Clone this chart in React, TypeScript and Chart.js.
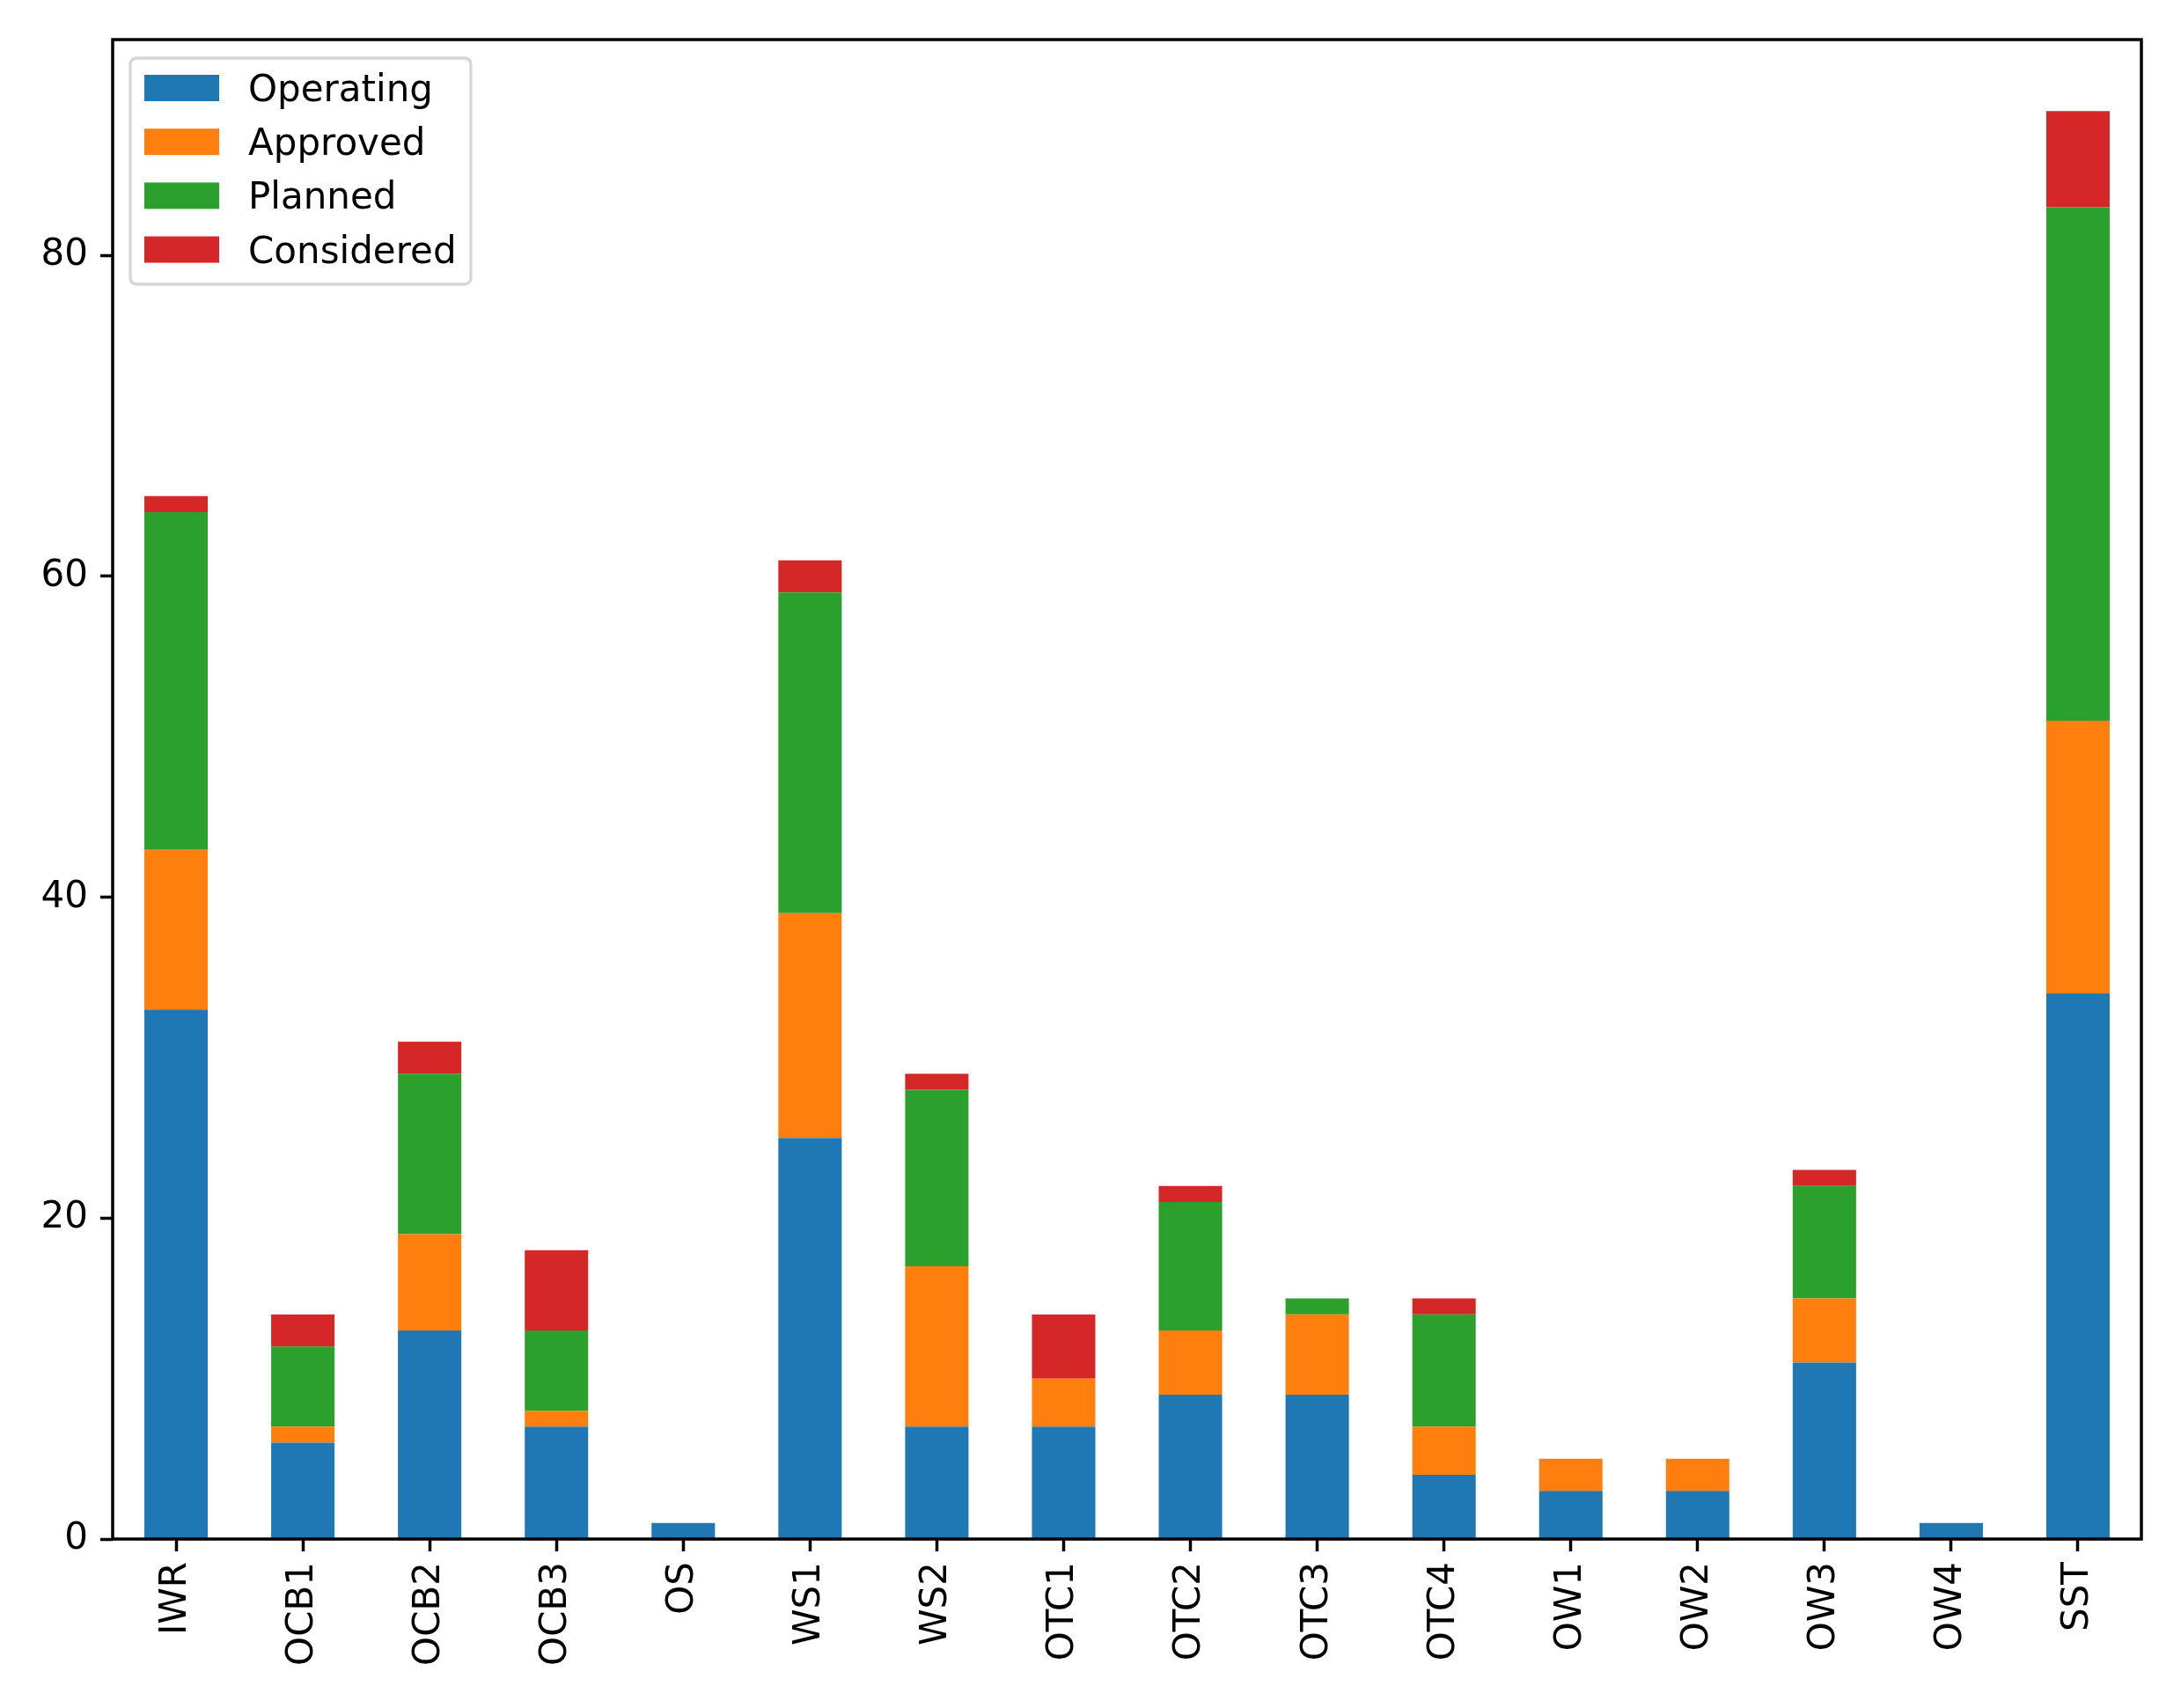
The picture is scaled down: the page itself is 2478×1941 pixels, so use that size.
import React, { useEffect, useRef } from 'react';
import { Chart, registerables } from 'chart.js';

Chart.register(...registerables);

const categories = ['IWR', 'OCB1', 'OCB2', 'OCB3', 'OS', 'WS1', 'WS2', 'OTC1', 'OTC2', 'OTC3', 'OTC4', 'OW1', 'OW2', 'OW3', 'OW4', 'SST'];
const operating = [33, 6, 13, 7, 1, 25, 7, 7, 9, 9, 4, 3, 3, 11, 1, 34];
const approved = [10, 1, 6, 1, 0, 14, 10, 3, 4, 5, 3, 2, 2, 4, 0, 17];
const planned = [21, 5, 10, 5, 0, 20, 11, 0, 8, 1, 7, 0, 0, 7, 0, 32];
const considered = [1, 2, 2, 5, 0, 2, 1, 4, 1, 0, 1, 0, 0, 1, 0, 6];
const seriesNames = ['Operating', 'Approved', 'Planned', 'Considered'];
const seriesColors = ['#1f77b4', '#ff7f0e', '#2ca02c', '#d62728'];
const yTicks = [0, 20, 40, 60, 80];
const yMax = 93.45;

const FONT = "'DejaVu Sans', sans-serif";
const FS = 42;

export default function App() {
  const ref = useRef<HTMLCanvasElement>(null);

  useEffect(() => {
    document.body.style.margin = '0';
    const canvas = ref.current!;

    const frame = {
      id: 'frame',
      afterDraw(chart: any) {
        const { ctx, chartArea: a } = chart;
        ctx.save();
        ctx.strokeStyle = '#000';
        ctx.lineWidth = 3.5;
        ctx.strokeRect(a.left, a.top, a.right - a.left, a.bottom - a.top);
        ctx.restore();
      },
    };

    const mplLegend = {
      id: 'mplLegend',
      afterDatasetsDraw(chart: any) {
        const { ctx, chartArea: a } = chart;
        const bx = a.left + 20;
        const by = a.top + 21;
        const bw = 387;
        const bh = 257;
        const r = 8;
        ctx.save();
        ctx.beginPath();
        ctx.moveTo(bx + r, by);
        ctx.lineTo(bx + bw - r, by);
        ctx.quadraticCurveTo(bx + bw, by, bx + bw, by + r);
        ctx.lineTo(bx + bw, by + bh - r);
        ctx.quadraticCurveTo(bx + bw, by + bh, bx + bw - r, by + bh);
        ctx.lineTo(bx + r, by + bh);
        ctx.quadraticCurveTo(bx, by + bh, bx, by + bh - r);
        ctx.lineTo(bx, by + r);
        ctx.quadraticCurveTo(bx, by, bx + r, by);
        ctx.closePath();
        ctx.fillStyle = 'rgba(255,255,255,0.8)';
        ctx.fill();
        ctx.strokeStyle = '#d6d6d6';
        ctx.lineWidth = 3.3;
        ctx.stroke();
        ctx.font = `${FS}px ${FONT}`;
        ctx.textBaseline = 'middle';
        ctx.textAlign = 'left';
        chart.data.datasets.forEach((ds: any, i: number) => {
          const cy = by + 34 + i * 61.2;
          ctx.fillStyle = ds.backgroundColor;
          ctx.fillRect(bx + 16, cy - 15, 85, 30);
          ctx.fillStyle = '#000';
          ctx.fillText(ds.label, bx + 134, cy + 4);
        });
        ctx.restore();
      },
    };

    const seriesData = [operating, approved, planned, considered];

    const chart = new Chart(canvas, {
      type: 'bar',
      data: {
        labels: categories,
        datasets: seriesData.map((d, i) => ({
          label: seriesNames[i],
          data: d,
          backgroundColor: seriesColors[i],
          borderWidth: 0,
          barPercentage: 0.5,
          categoryPercentage: 1,
          stack: 's',
        })),
      },
      options: {
        animation: false,
        responsive: false,
        devicePixelRatio: 1,
        layout: { padding: { top: 45, right: 45, left: 0, bottom: 0 } },
        plugins: { legend: { display: false }, tooltip: { enabled: false } },
        scales: {
          x: {
            stacked: true,
            offset: true,
            grid: {
              display: true,
              drawOnChartArea: false,
              drawTicks: true,
              tickLength: 14,
              tickWidth: 3.5,
              tickColor: '#000',
              offset: false,
            },
            border: { display: false },
            ticks: {
              autoSkip: false,
              minRotation: 90,
              maxRotation: 90,
              padding: 12,
              color: '#000',
              font: { family: FONT, size: FS },
            },
            afterFit(scale: any) {
              scale.height = 192;
            },
          },
          y: {
            stacked: true,
            min: 0,
            max: yMax,
            grid: {
              display: true,
              drawOnChartArea: false,
              drawTicks: true,
              tickLength: 14,
              tickWidth: 3.5,
              tickColor: '#000',
            },
            border: { display: false },
            ticks: {
              padding: 14,
              color: '#000',
              font: { family: FONT, size: FS },
            },
            afterBuildTicks(scale: any) {
              scale.ticks = yTicks.map((v) => ({ value: v }));
            },
            afterFit(scale: any) {
              scale.width = 128;
            },
          },
        },
      },
      plugins: [mplLegend, frame],
    });

    return () => chart.destroy();
  }, []);

  return (
    <div style={{ position: 'fixed', left: 0, top: 0, width: 2478, height: 1941, background: '#fff' }}>
      <canvas ref={ref} width={2478} height={1941} style={{ width: 2478, height: 1941, display: 'block' }} />
    </div>
  );
}
